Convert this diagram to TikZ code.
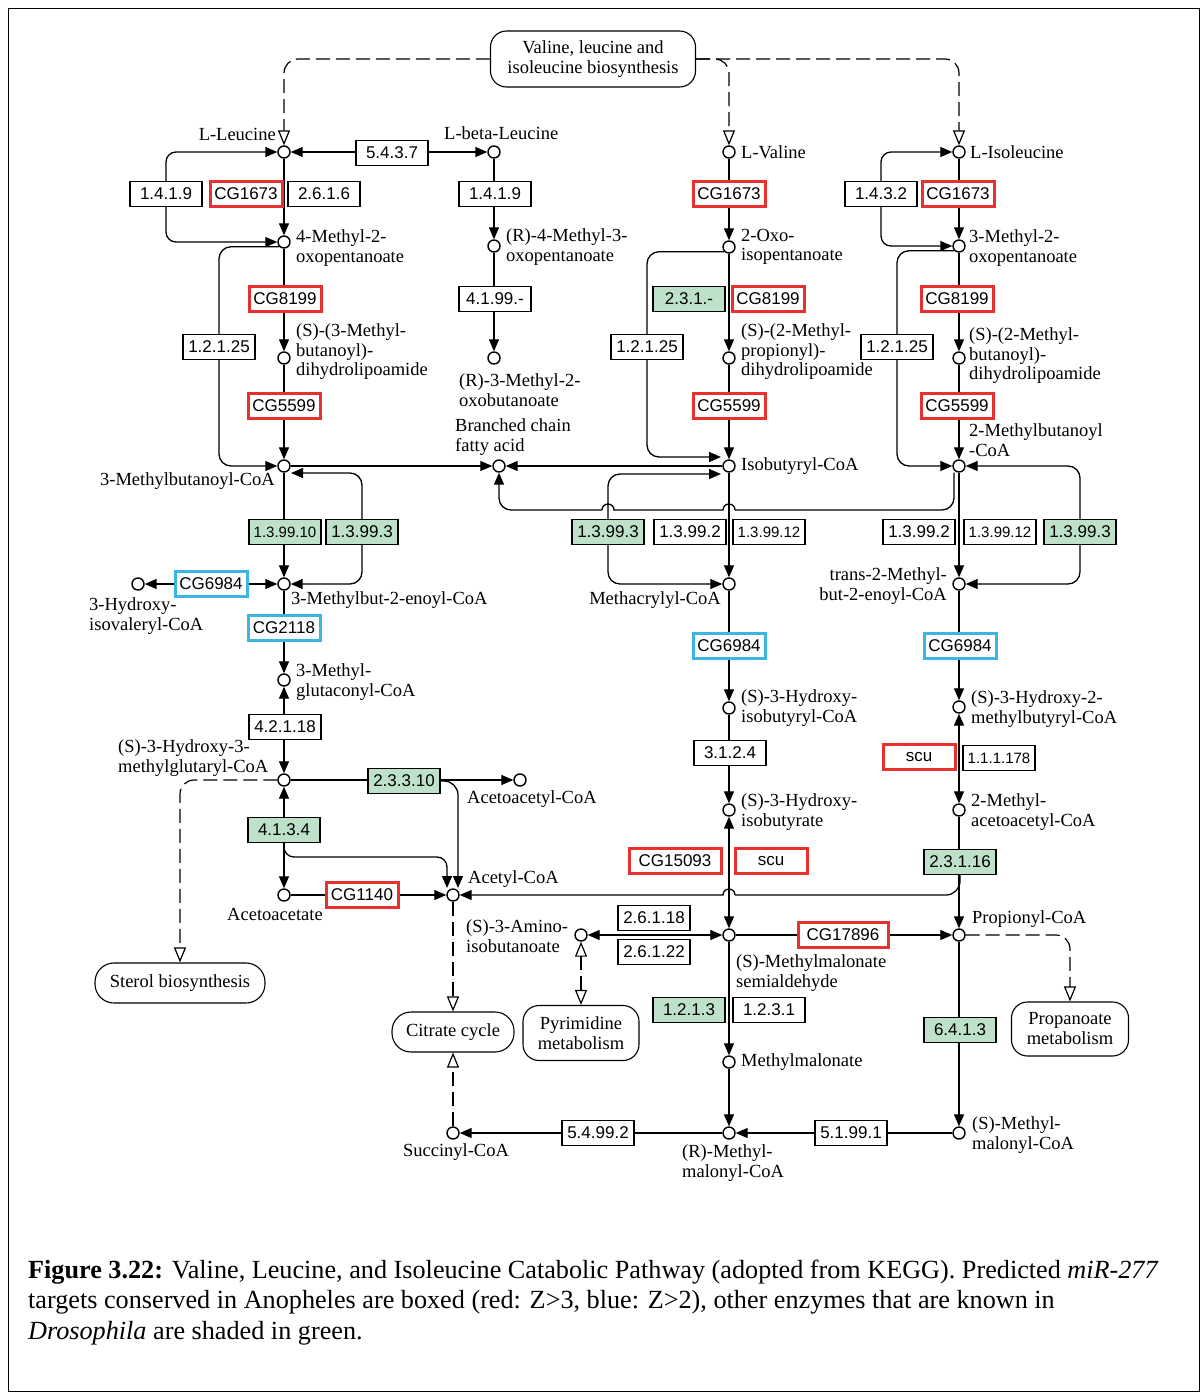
\documentclass[tikz,border=0pt]{standalone}
\usepackage{fontspec}
\setmainfont{Liberation Serif}
\newfontfamily\enzfont{Liberation Sans}
\usetikzlibrary{arrows.meta,calc}
\definecolor{kred}{HTML}{E8302F}
\definecolor{kblue}{HTML}{3DB5E3}
\definecolor{kgreen}{HTML}{BEE2C9}
\pgfdeclarelayer{bg}
\pgfsetlayers{bg,main}
\begin{document}
\begin{tikzpicture}[x=1pt,y=-1pt,
  cpd/.style={circle,draw,line width=1.4pt,minimum size=12pt,inner sep=0pt,fill=white},
  enz/.style={draw,line width=1.1pt,fill=white,minimum width=72pt,minimum height=25pt,inner sep=0pt,font=\enzfont\fontsize{17}{17}\selectfont},
  enzs/.style={font=\enzfont\fontsize{15}{15}\selectfont},
  redbox/.style={enz,draw=kred,line width=3pt},
  bluebox/.style={enz,draw=kblue,line width=3pt},
  grnbox/.style={enz,fill=kgreen},
  mapn/.style={draw,line width=1.1pt,rounded corners=16pt,fill=white,align=center,inner sep=0pt,font=\fontsize{18.5}{20}\selectfont},
  lbl/.style={inner sep=0pt,align=left,font=\fontsize{18.5}{19.5}\selectfont},
  lblr/.style={inner sep=0pt,align=right,font=\fontsize{18.5}{19.5}\selectfont},
  ln/.style={line width=1.3pt},
  rx/.style={line width=1.3pt,-{Triangle[length=12pt,width=10pt]}},
  rxb/.style={line width=1.3pt,{Triangle[length=12pt,width=10pt]}-{Triangle[length=12pt,width=10pt]}},
  dsh/.style={line width=1.2pt,dash pattern=on 14pt off 6pt,-{Triangle[open,length=15pt,width=12pt,fill=white]}},
  dshb/.style={line width=1.2pt,dash pattern=on 14pt off 6pt,{Triangle[open,length=15pt,width=12pt,fill=white]}-{Triangle[open,length=15pt,width=12pt,fill=white]}},
  captxt/.style={inner sep=0pt,anchor=base west,font=\fontsize{26.2}{30}\selectfont}
]
\useasboundingbox (0,0) rectangle (1200,1392);
\draw[line width=1pt] (8.5,8.5) rectangle (1199.5,1391.5);

% ---------- compounds ----------
\node[cpd] (lleu) at (284,152) {};
\node[cpd] (lbleu) at (494,152) {};
\node[cpd] (lval) at (729,152) {};
\node[cpd] (liso) at (959,152) {};
\node[cpd] (m4oxo) at (284,242) {};
\node[cpd] (r4m3oxo) at (494,246) {};
\node[cpd] (oxoiso) at (729,247) {};
\node[cpd] (m3oxo) at (959,246) {};
\node[cpd] (dhl1) at (284,358) {};
\node[cpd] (r3m2oxo) at (494,358) {};
\node[cpd] (dhl2) at (729,358) {};
\node[cpd] (dhl3) at (959,358) {};
\node[cpd] (mbcoa) at (284,466) {};
\node[cpd] (bcfa) at (499,466) {};
\node[cpd] (ibcoa) at (729,466) {};
\node[cpd] (mb2coa) at (959,466) {};
\node[cpd] (hivcoa) at (138,584) {};
\node[cpd] (enoyl) at (284,584) {};
\node[cpd] (macoa) at (729,584) {};
\node[cpd] (tmbcoa) at (959,584) {};
\node[cpd] (mglut) at (284,680) {};
\node[cpd] (hibcoa) at (729,708) {};
\node[cpd] (hmbcoa) at (959,707) {};
\node[cpd] (hmg) at (284,780) {};
\node[cpd] (aacoa) at (520,780) {};
\node[cpd] (hib) at (729,810) {};
\node[cpd] (macac) at (959,810) {};
\node[cpd] (acac) at (284,895) {};
\node[cpd] (acoa) at (453,895) {};
\node[cpd] (aib) at (581,935) {};
\node[cpd] (mmsa) at (729,935) {};
\node[cpd] (pcoa) at (959,935) {};
\node[cpd] (mma) at (729,1062) {};
\node[cpd] (scoa) at (453,1133) {};
\node[cpd] (rmmcoa) at (729,1133) {};
\node[cpd] (smmcoa) at (959,1133) {};

% ---------- maps ----------
\node[mapn,minimum width=205pt,minimum height=56pt] (biomap) at (593,59) {Valine, leucine and\\isoleucine biosynthesis};
\node[mapn,minimum width=170pt,minimum height=40pt,rounded corners=19pt] (sterol) at (180,983) {Sterol biosynthesis};
\node[mapn,minimum width=122pt,minimum height=40pt,rounded corners=19pt] (citrate) at (453,1032) {Citrate cycle};
\node[mapn,minimum width=116pt,minimum height=55pt] (pyr) at (581,1033) {Pyrimidine\\metabolism};
\node[mapn,minimum width=117pt,minimum height=54pt] (propmap) at (1070,1029) {Propanoate\\metabolism};

% ---------- enzymes ----------
\node[enz] (e1419a) at (166,194) {1.4.1.9};
\node[redbox] (cg1673a) at (246,194) {CG1673};
\node[enz] (e2616) at (324,194) {2.6.1.6};
\node[enz] (e5437) at (392,153) {5.4.3.7};
\node[enz] (e1419b) at (495,194) {1.4.1.9};
\node[redbox] (cg1673b) at (729,194) {CG1673};
\node[enz] (e1432) at (881,194) {1.4.3.2};
\node[redbox] (cg1673c) at (958,194) {CG1673};
\node[redbox] (cg8199a) at (285,299) {CG8199};
\node[enz] (e4199) at (495,299) {4.1.99.-};
\node[grnbox] (e231) at (689,299) {2.3.1.-};
\node[redbox] (cg8199b) at (768,299) {CG8199};
\node[redbox] (cg8199c) at (957,299) {CG8199};
\node[enz] (e12125a) at (219,347) {1.2.1.25};
\node[enz] (e12125b) at (647,347) {1.2.1.25};
\node[enz] (e12125c) at (897,347) {1.2.1.25};
\node[redbox] (cg5599a) at (284,406) {CG5599};
\node[redbox] (cg5599b) at (729,406) {CG5599};
\node[redbox] (cg5599c) at (957,406) {CG5599};
\node[grnbox,enzs] (e139910) at (285,532) {1.3.99.10};
\node[grnbox] (e13993a) at (362,532) {1.3.99.3};
\node[grnbox] (e13993b) at (608,532) {1.3.99.3};
\node[enz] (e13992b) at (690,532) {1.3.99.2};
\node[enz,enzs] (e139912b) at (769,532) {1.3.99.12};
\node[enz] (e13992c) at (919,532) {1.3.99.2};
\node[enz,enzs] (e139912c) at (1000,532) {1.3.99.12};
\node[grnbox] (e13993c) at (1080,532) {1.3.99.3};
\node[bluebox] (cg6984a) at (211,584) {CG6984};
\node[bluebox] (cg2118) at (284,628) {CG2118};
\node[bluebox] (cg6984b) at (729,646) {CG6984};
\node[bluebox] (cg6984c) at (960,646) {CG6984};
\node[enz] (e42118) at (285,727) {4.2.1.18};
\node[enz] (e3124) at (730,753) {3.1.2.4};
\node[redbox] (scua) at (919,757) {scu};
\node[enz,enzs] (e111178) at (999,758) {1.1.1.178};
\node[grnbox] (e23310) at (404,781) {2.3.3.10};
\node[grnbox] (e4134) at (284,830) {4.1.3.4};
\node[redbox,minimum width=92pt] (cg15093) at (675,861) {CG15093};
\node[redbox] (scub) at (771,861) {scu};
\node[grnbox] (e23116) at (960,862) {2.3.1.16};
\node[redbox] (cg1140) at (362,895) {CG1140};
\node[enz] (e26118) at (654,918) {2.6.1.18};
\node[enz] (e26122) at (654,952) {2.6.1.22};
\node[redbox,minimum width=90pt] (cg17896) at (843,935) {CG17896};
\node[grnbox] (e1213) at (689,1010) {1.2.1.3};
\node[enz] (e1231) at (769,1010) {1.2.3.1};
\node[grnbox] (e6413) at (960,1030) {6.4.1.3};
\node[enz] (e54992) at (598,1133) {5.4.99.2};
\node[enz] (e51991) at (851,1133) {5.1.99.1};

% ---------- compound labels ----------
\node[lbl,anchor=east] (t1) at (276,134) {L-Leucine};
\node[lbl,anchor=west] (t2) at (444,133) {L-beta-Leucine};
\node[lbl,anchor=west] (t3) at (741,152) {L-Valine};
\node[lbl,anchor=west] (t4) at (970,152) {L-Isoleucine};
\node[lbl,anchor=west] (t5) at (296,248) {4-Methyl-2-\\oxopentanoate};
\node[lbl,anchor=west] (t6) at (506,247) {(R)-4-Methyl-3-\\oxopentanoate};
\node[lbl,anchor=west] (t7) at (741,247) {2-Oxo-\\isopentanoate};
\node[lbl,anchor=west] (t8) at (969,248) {3-Methyl-2-\\oxopentanoate};
\node[lbl,anchor=west] (t9) at (296,352) {(S)-(3-Methyl-\\butanoyl)-\\dihydrolipoamide};
\node[lbl,anchor=west] (t10) at (459,390) {(R)-3-Methyl-2-\\oxobutanoate};
\node[lbl,anchor=west] (t11) at (741,352) {(S)-(2-Methyl-\\propionyl)-\\dihydrolipoamide};
\node[lbl,anchor=west] (t12) at (969,356) {(S)-(2-Methyl-\\butanoyl)-\\dihydrolipoamide};
\node[lbl,anchor=west] (t13) at (969,440) {2-Methylbutanoyl\\-CoA};
\node[lbl,anchor=west] (t14) at (455,437) {Branched chain\\fatty acid};
\node[lbl,anchor=east] (t15) at (275,481) {3-Methylbutanoyl-CoA};
\node[lbl,anchor=west] (t16) at (741,466) {Isobutyryl-CoA};
\node[lbl,anchor=west] (t17) at (89,616) {3-Hydroxy-\\isovaleryl-CoA};
\node[lbl,anchor=west] (t18) at (291,600) {3-Methylbut-2-enoyl-CoA};
\node[lbl,anchor=east] (t19) at (721,600) {Methacrylyl-CoA};
\node[lblr,anchor=east] (t20) at (947,586) {trans-2-Methyl-\\but-2-enoyl-CoA};
\node[lbl,anchor=west] (t21) at (296,682) {3-Methyl-\\glutaconyl-CoA};
\node[lbl,anchor=west] (t22) at (741,708) {(S)-3-Hydroxy-\\isobutyryl-CoA};
\node[lbl,anchor=west] (t23) at (971,709) {(S)-3-Hydroxy-2-\\methylbutyryl-CoA};
\node[lbl,anchor=west] (t24) at (118,758) {(S)-3-Hydroxy-3-\\methylglutaryl-CoA};
\node[lbl,anchor=west] (t25) at (467,799) {Acetoacetyl-CoA};
\node[lbl,anchor=west] (t26) at (741,812) {(S)-3-Hydroxy-\\isobutyrate};
\node[lbl,anchor=west] (t27) at (971,812) {2-Methyl-\\acetoacetyl-CoA};
\node[lbl] (t28) at (275,914) {Acetoacetate};
\node[lbl,anchor=west] (t29) at (468,879) {Acetyl-CoA};
\node[lbl,anchor=west] (t30) at (466,936) {(S)-3-Amino-\\isobutanoate};
\node[lbl,anchor=west] (t31) at (736,973) {(S)-Methylmalonate\\semialdehyde};
\node[lbl,anchor=west] (t32) at (972,919) {Propionyl-CoA};
\node[lbl,anchor=west] (t33) at (741,1062) {Methylmalonate};
\node[lbl] (t34) at (456,1152) {Succinyl-CoA};
\node[lbl,anchor=west] (t35) at (682,1163) {(R)-Methyl-\\malonyl-CoA};
\node[lbl,anchor=west] (t36) at (972,1135) {(S)-Methyl-\\malonyl-CoA};

% ---------- caption ----------
\node[captxt] (c1) at (28,1278) {\textbf{Figure 3.22:} Valine, Leucine, and Isoleucine Catabolic Pathway (adopted from KEGG). Predicted \textit{miR-277}};
\node[captxt] (c2) at (28,1308.5) {targets conserved in Anopheles are boxed (red: Z>3, blue: Z>2), other enzymes that are known in};
\node[captxt] (c3) at (28,1339) {\textit{Drosophila} are shaded in green.};

% ---------- connectors ----------
\begin{pgfonlayer}{bg}
% maps
\draw[dsh,rounded corners=14pt] (biomap.west) -| (lleu.north);
\draw[dsh,rounded corners=14pt] (biomap.east) -| (lval.north);
\draw[dsh,rounded corners=14pt] (biomap.east) -| (liso.north);
\draw[dsh,rounded corners=14pt] (hmg.west) -| (sterol.north);
\draw[dsh] (acoa.south) -- (citrate.north);
\draw[dsh] (scoa.north) -- (citrate.south);
\draw[dshb] (aib.south) -- (pyr.north);
\draw[dsh,rounded corners=14pt] (pcoa.east) -| (propmap.north);
% leucine
\draw[rx] (lleu) -- (m4oxo);
\draw[rxb] (lleu) -- (lbleu);
\draw[rxb,rounded corners=10pt] (lleu.west) -| (e1419a.center) |- (m4oxo.west);
\draw[rx] (lbleu) -- (r4m3oxo);
\draw[rx] (r4m3oxo) -- (r3m2oxo);
\draw[rx] (m4oxo) -- (dhl1);
\draw[rx,rounded corners=12pt] (m4oxo.south west) -| (e12125a.center) |- (mbcoa.west);
\draw[rx] (dhl1) -- (mbcoa);
\draw[rx] (mbcoa) -- (bcfa);
\draw[rx] (ibcoa) -- (bcfa);
\draw[rx] (mbcoa) -- (enoyl);
\draw[rxb,rounded corners=12pt] ($(mbcoa)+(7,7)$) -| (e13993a.center) |- (enoyl.east);
\draw[rxb] (enoyl) -- (hivcoa);
\draw[rx] (enoyl) -- (mglut);
\draw[rxb] (mglut) -- (hmg);
\draw[rx] (hmg) -- (aacoa);
\draw[rxb] (hmg) -- (acac);
\draw[rx] (acac) -- (acoa);
\draw[rx,rounded corners=10pt] (e4134.south) |- (447,857) -- ($(acoa)+(-6,-7)$);
\draw[rx,rounded corners=14pt] (e23310.east) -| ($(acoa)+(5,-7)$);
% valine
\draw[rx] (lval) -- (oxoiso);
\draw[rx] (oxoiso) -- (dhl2);
\draw[rx,rounded corners=12pt] (oxoiso.south west) -| (e12125b.center) |- ($(ibcoa)+(-8,-9)$);
\draw[rx] (dhl2) -- (ibcoa);
\draw[rx] (ibcoa) -- (macoa);
\draw[rxb,rounded corners=12pt] ($(ibcoa)+(-8,8)$) -| (e13993b.center) |- (macoa.west);
\draw[rx] (macoa) -- (hibcoa);
\draw[rx] (hibcoa) -- (hib);
\draw[rxb] (hib) -- (mmsa);
\draw[rxb] (aib) -- (mmsa);
\draw[rx] (mmsa) -- (pcoa);
\draw[rx] (mmsa) -- (mma);
\draw[rx] (mma) -- (rmmcoa);
\draw[rx] (rmmcoa) -- (scoa);
\draw[rx] (smmcoa) -- (rmmcoa);
% isoleucine
\draw[rx] (liso) -- (m3oxo);
\draw[rxb,rounded corners=10pt] (liso.west) -| (e1432.center) |- (m3oxo.west);
\draw[rx] (m3oxo) -- (dhl3);
\draw[rx,rounded corners=12pt] (m3oxo.south west) -| (e12125c.center) |- (mb2coa.west);
\draw[rx] (dhl3) -- (mb2coa);
\draw[rx] (mb2coa) -- (tmbcoa);
\draw[rxb,rounded corners=12pt] (mb2coa.east) -| (e13993c.center) |- (tmbcoa.east);
\draw[rx] (tmbcoa) -- (hmbcoa);
\draw[rxb] (hmbcoa) -- (macac);
\draw[rx] (macac) -- (pcoa);
\draw[rx] (pcoa) -- (smmcoa);
% 2-methylbutanoyl-CoA to branched chain fatty acid, with bridges
\draw[ln,rounded corners=12pt] ($(mb2coa.south)+(-5,0)$) |- (735,510);
\draw[ln] (735,510) arc[start angle=0,end angle=-180,radius=6] -- (614,510) arc[start angle=0,end angle=-180,radius=6];
\draw[rx,rounded corners=12pt] (602,510) -| (bcfa.south);
% 2.3.1.16 branch to acetyl-CoA
\draw[ln,rounded corners=14pt] (e23116.south) |- (735,895);
\draw[rx] (735,895) arc[start angle=0,end angle=-180,radius=6] -- (acoa.east);
\end{pgfonlayer}
\end{tikzpicture}
\end{document}
